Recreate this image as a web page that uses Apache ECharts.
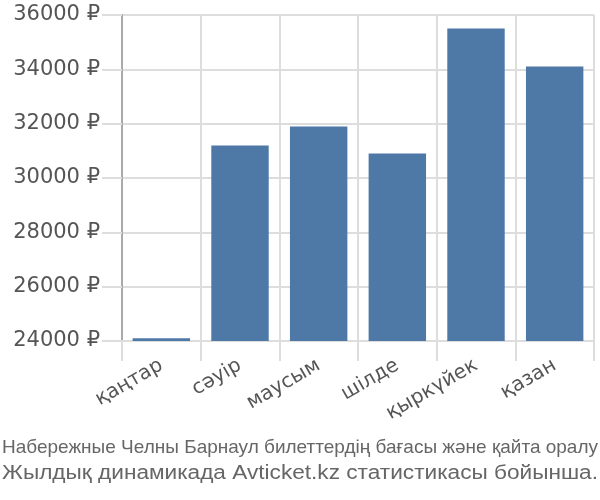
<!DOCTYPE html>
<html><head><meta charset="utf-8">
<script src="https://cdn.jsdelivr.net/npm/echarts@6/dist/echarts.min.js"></script>
<style>html,body{margin:0;padding:0;background:#fff}#c{width:600px;height:500px}</style>
</head><body><div id="c"></div>
<script>
var categories = ['қаңтар','сәуір','маусым','шілде','қыркүйек','қазан'];
var prices = [24100, 31200, 31900, 30900, 35500, 34100];
var yTicks = [24000, 26000, 28000, 30000, 32000, 34000, 36000];
var line1 = 'Набережные Челны Барнаул билеттердің бағасы және қайта оралу';
var line2 = 'Жылдық динамикада Avticket.kz статистикасы бойынша.';

function fitScale(text, font, width){
  var ctx = document.createElement('canvas').getContext('2d');
  ctx.font = font;
  return width / ctx.measureText(text).width;
}
var f1 = '18.5px "Liberation Sans"';
var f2 = '20px "Liberation Sans"';
var s1 = fitScale(line1, f1, 596);
var s2 = fitScale(line2, f2, 596);

var chart = echarts.init(document.getElementById('c'), null, {renderer:'canvas'});
chart.setOption({
  animation:false,
  grid:{left:122, right:6, top:15, bottom:159, containLabel:false},
  xAxis:{type:'category', data:categories,
    axisLine:{show:true, lineStyle:{color:'#ddd', width:2}},
    axisTick:{show:true, length:20, alignWithLabel:false, lineStyle:{color:'#ddd', width:2}},
    splitLine:{show:true, lineStyle:{color:'#ddd', width:2}},
    axisLabel:{rotate:30, fontSize:20, color:'#555', fontFamily:'DejaVu Sans', margin:23, interval:0}
  },
  yAxis:{type:'value', min:yTicks[0], max:yTicks[yTicks.length-1], interval:2000,
    axisLine:{show:true, lineStyle:{color:'#aaa', width:2}},
    axisTick:{show:true, length:20, lineStyle:{color:'#ddd', width:2}},
    splitLine:{show:true, lineStyle:{color:'#ddd', width:2}},
    axisLabel:{fontSize:21, color:'#555', fontFamily:'DejaVu Sans', margin:22,
      formatter:function(v){return v+' ₽';}}
  },
  series:[{type:'bar', data:prices, barCategoryGap:'27%',
    itemStyle:{color:'#4e79a7'}}],
  graphic:[
    {type:'text', x:300, y:448, scaleX:s1, style:{text:line1, font:f1, fill:'#666', textAlign:'center', textVerticalAlign:'middle'}},
    {type:'text', x:300, y:473, scaleX:s2, style:{text:line2, font:f2, fill:'#666', textAlign:'center', textVerticalAlign:'middle'}}
  ]
});
</script></body></html>
